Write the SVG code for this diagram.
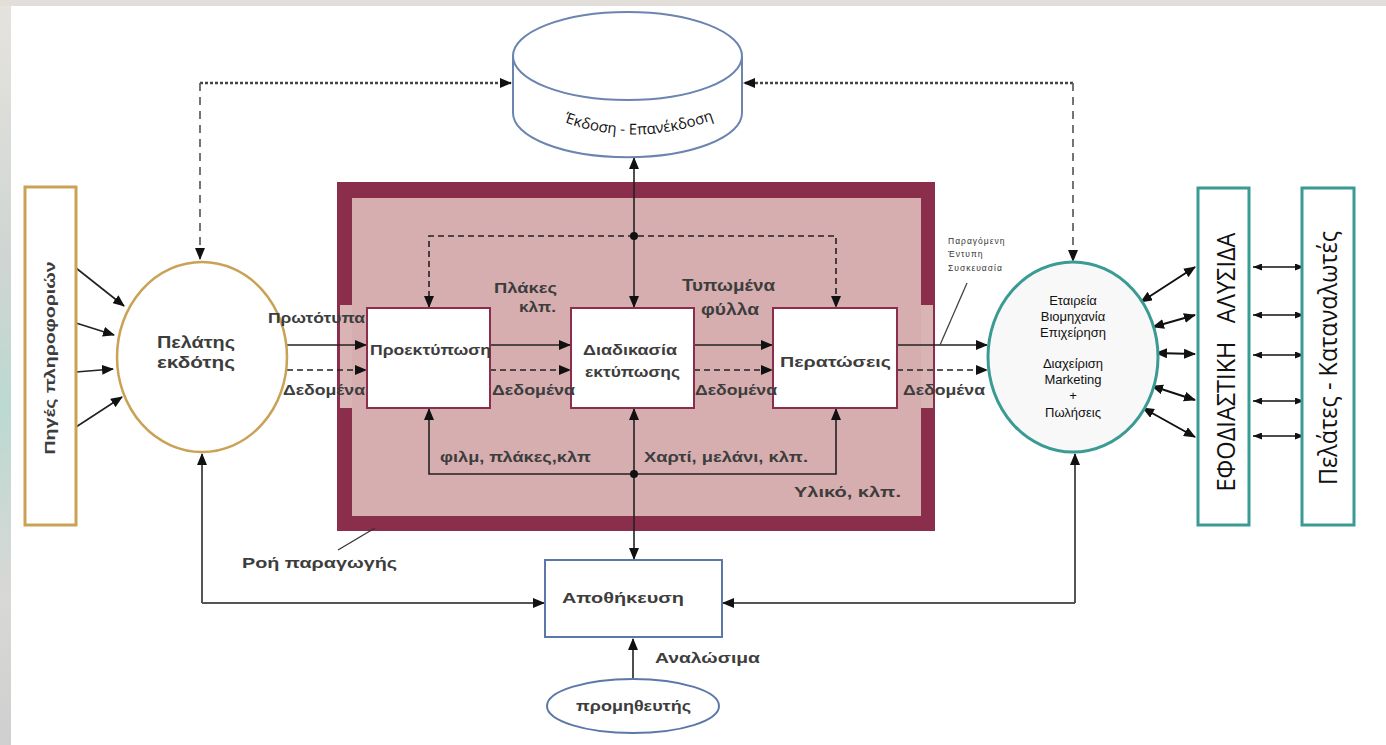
<svg xmlns="http://www.w3.org/2000/svg" width="1386" height="745" viewBox="0 0 1386 745">
<defs>
<style>
.lbl{font-family:"Liberation Sans",Arial,sans-serif;font-weight:bold;fill:#3d3d3d;font-size:14px}
.reg{font-family:"Liberation Sans",Arial,sans-serif;fill:#111;font-size:13px;text-anchor:middle}
.sm{font-family:"Liberation Sans",Arial,sans-serif;fill:#333;font-size:8.5px;letter-spacing:1px}
.big{font-family:"Open Sans","Noto Sans",sans-serif;fill:#111;text-anchor:middle}
.ln{fill:none;stroke:#222;stroke-width:1.6}
.dash{fill:none;stroke:#222;stroke-width:1.6;stroke-dasharray:6 4}
.gl{fill:none;stroke:#555;stroke-width:2}
.topd{fill:none;stroke:#444;stroke-width:2.5;stroke-dasharray:3 2}
.vd{fill:none;stroke:#666;stroke-width:1.8;stroke-dasharray:8 6}
.thick{fill:none;stroke:#111;stroke-width:2}
.thin{fill:none;stroke:#111;stroke-width:1.3}
.box{fill:#fff;stroke:#8b2e4b;stroke-width:2}
</style>
<marker id="ah" markerUnits="userSpaceOnUse" markerWidth="12" markerHeight="10" refX="11" refY="5" orient="auto-start-reverse"><path d="M0,0 L12,5 L0,10 z" fill="#111"/></marker>
<marker id="as" markerUnits="userSpaceOnUse" markerWidth="9" markerHeight="7" refX="9" refY="3.5" orient="auto-start-reverse"><path d="M0,0 L9,3.5 L0,7 z" fill="#111"/></marker>
<linearGradient id="lg" x1="0" y1="0" x2="0" y2="1"><stop offset="0" stop-color="#e6e3df"/><stop offset="0.35" stop-color="#cfd5d2"/><stop offset="0.55" stop-color="#bcd9d1"/><stop offset="0.8" stop-color="#d8d8d6"/><stop offset="1" stop-color="#cfcfcf"/></linearGradient>
<path id="arcTxt" d="M549 116 Q633 154 729 114"/>
</defs>
<rect width="1386" height="745" fill="#fff"/>
<rect x="0" y="0" width="11" height="745" fill="url(#lg)"/>
<rect x="0" y="0" width="1386" height="6" fill="#e2dfdb"/>

<g id="frame">
<rect x="337" y="182" width="598" height="349" fill="#8b2e4b"/>
<rect x="352" y="198" width="569" height="318" fill="#d6aeb0"/>
<rect x="340" y="305" width="12" height="103" fill="#d9b4b5"/>
<rect x="921" y="305" width="12" height="103" fill="#d9b4b5"/>
</g>

<g id="connectors">
<path class="topd" d="M200 83 L511 83" marker-end="url(#ah)"/>
<path class="topd" d="M1073 83 L744 83" marker-end="url(#ah)"/>
<path class="vd" d="M200 83 L200 259" marker-end="url(#ah)"/>
<path class="vd" d="M1073 83 L1073 261" marker-end="url(#ah)"/>
<path class="ln" d="M76 268 L124 306" marker-end="url(#ah)"/>
<path class="ln" d="M76 323 L114 335" marker-end="url(#ah)"/>
<path class="ln" d="M76 372 L113 369" marker-end="url(#ah)"/>
<path class="ln" d="M76 427 L122 397" marker-end="url(#ah)"/>
<path class="gl" d="M202 603 L202 454" marker-end="url(#ah)"/>
<path class="gl" d="M202 603 L544 603" marker-end="url(#ah)"/>
<path class="gl" d="M1075 603 L723 603" marker-end="url(#ah)"/>
<path class="gl" d="M1075 603 L1075 454" marker-end="url(#ah)"/>
<path class="ln" d="M634 236 L634 158" marker-end="url(#ah)"/>
<path class="ln" d="M634 236 L634 307" marker-end="url(#ah)"/>
<path class="ln" d="M634 474 L634 409" marker-end="url(#ah)"/>
<path class="ln" d="M634 474 L634 559" marker-end="url(#ah)"/>
<path class="dash" d="M429 307 L429 236 L836 236 L836 307" marker-start="url(#ah)" marker-end="url(#ah)"/>
<path class="ln" d="M429 409 L429 474 L836 474 L836 409" marker-start="url(#ah)" marker-end="url(#ah)"/>
<circle cx="634" cy="236" r="4" fill="#111"/>
<circle cx="634" cy="474" r="4" fill="#111"/>
<path class="ln" d="M287 345 L366 345" marker-end="url(#ah)"/>
<path class="dash" d="M287 370 L366 370" marker-end="url(#ah)"/>
<path class="ln" d="M490 345 L570 345" marker-end="url(#ah)"/>
<path class="dash" d="M490 370 L570 370" marker-end="url(#ah)"/>
<path class="ln" d="M694 345 L772 345" marker-end="url(#ah)"/>
<path class="dash" d="M694 370 L772 370" marker-end="url(#ah)"/>
<path class="ln" d="M897 345 L987 345" marker-end="url(#ah)"/>
<path class="dash" d="M897 370 L987 370" marker-end="url(#ah)"/>
<path d="M967 283 L940 345" fill="none" stroke="#444" stroke-width="1.3"/>
<path d="M375 528 L338 550" fill="none" stroke="#333" stroke-width="1.3"/>
<path class="ln" d="M633 679 L633 639" marker-end="url(#ah)"/>
<path class="thick" d="M1141 302 L1195 267" marker-start="url(#ah)" marker-end="url(#ah)"/>
<path class="thick" d="M1153 327 L1195 315" marker-start="url(#ah)" marker-end="url(#ah)"/>
<path class="thick" d="M1156 353 L1195 354" marker-start="url(#ah)" marker-end="url(#ah)"/>
<path class="thick" d="M1152 386 L1195 400" marker-start="url(#ah)" marker-end="url(#ah)"/>
<path class="thick" d="M1143 408 L1195 437" marker-start="url(#ah)" marker-end="url(#ah)"/>
<path class="thin" d="M1253 267 L1304 267" marker-start="url(#as)" marker-end="url(#as)"/>
<path class="thin" d="M1253 315 L1304 315" marker-start="url(#as)" marker-end="url(#as)"/>
<path class="thin" d="M1253 355 L1304 355" marker-start="url(#as)" marker-end="url(#as)"/>
<path class="thin" d="M1253 401 L1304 401" marker-start="url(#as)" marker-end="url(#as)"/>
<path class="thin" d="M1253 436 L1304 436" marker-start="url(#as)" marker-end="url(#as)"/>
</g>

<g id="cylinder">
<path d="M513 56 L513 113 A114 44 0 0 0 742 113 L742 56" fill="#fff" stroke="#6b84b0" stroke-width="2"/>
<ellipse cx="627.5" cy="56" rx="114.5" ry="44" fill="#fff" stroke="#6b84b0" stroke-width="2"/>
<text style="font-family:'Open Sans','Noto Sans',sans-serif;font-size:15px;fill:#111"><textPath href="#arcTxt" startOffset="50%" text-anchor="middle">Έκδοση - Επανέκδοση</textPath></text>
</g>

<g id="sources">
<rect x="25" y="187" width="51" height="338" fill="#fff" stroke="#c9a255" stroke-width="3"/>
<text class="lbl" transform="translate(55 358) rotate(-90)" text-anchor="middle" textLength="193" lengthAdjust="spacingAndGlyphs">Πηγές πληροφοριών</text>
</g>

<g id="publisher">
<ellipse cx="202" cy="357" rx="85" ry="95" fill="#fff" stroke="#c9a255" stroke-width="2.5"/>
<text class="lbl" x="157" y="348" textLength="78" lengthAdjust="spacingAndGlyphs" style="font-size:16px">Πελάτης</text>
<text class="lbl" x="157" y="368" textLength="78" lengthAdjust="spacingAndGlyphs" style="font-size:16px">εκδότης</text>
</g>

<g id="prepress">
<rect class="box" x="367" y="308" width="123" height="100"/>
<text class="lbl" x="370" y="355" textLength="121" lengthAdjust="spacingAndGlyphs">Προεκτύπωση</text>
</g>
<g id="printing">
<rect class="box" x="571" y="308" width="123" height="100"/>
<text class="lbl" x="583" y="355" textLength="94" lengthAdjust="spacingAndGlyphs">Διαδικασία</text>
<text class="lbl" x="585" y="377" textLength="95" lengthAdjust="spacingAndGlyphs">εκτύπωσης</text>
</g>
<g id="finishing">
<rect class="box" x="773" y="308" width="124" height="100"/>
<text class="lbl" x="780" y="367" textLength="111" lengthAdjust="spacingAndGlyphs">Περατώσεις</text>
</g>

<g id="labels">
<text class="lbl" x="268" y="323" textLength="97" lengthAdjust="spacingAndGlyphs">Πρωτότυπα</text>
<text class="lbl" x="283" y="395" textLength="82" lengthAdjust="spacingAndGlyphs">Δεδομένα</text>
<text class="lbl" x="494" y="293" textLength="63" lengthAdjust="spacingAndGlyphs">Πλάκες</text>
<text class="lbl" x="519" y="312" textLength="37" lengthAdjust="spacingAndGlyphs">κλπ.</text>
<text class="lbl" x="492" y="395" textLength="83" lengthAdjust="spacingAndGlyphs">Δεδομένα</text>
<text class="lbl" x="682" y="291" textLength="93" lengthAdjust="spacingAndGlyphs" style="font-size:16px">Τυπωμένα</text>
<text class="lbl" x="701" y="315" textLength="58" lengthAdjust="spacingAndGlyphs" style="font-size:16px">φύλλα</text>
<text class="lbl" x="695" y="395" textLength="82" lengthAdjust="spacingAndGlyphs">Δεδομένα</text>
<text class="lbl" x="903" y="395" textLength="82" lengthAdjust="spacingAndGlyphs">Δεδομένα</text>
<text class="lbl" x="440" y="462" textLength="151" lengthAdjust="spacingAndGlyphs">φιλμ, πλάκες,κλπ</text>
<text class="lbl" x="644" y="462" textLength="164" lengthAdjust="spacingAndGlyphs">Χαρτί, μελάνι, κλπ.</text>
<text class="lbl" x="794" y="497" textLength="107" lengthAdjust="spacingAndGlyphs">Υλικό, κλπ.</text>
<text class="lbl" x="242" y="568" textLength="155" lengthAdjust="spacingAndGlyphs">Ροή παραγωγής</text>
<text class="lbl" x="655" y="663" textLength="105" lengthAdjust="spacingAndGlyphs">Αναλώσιμα</text>
<text class="sm" x="948" y="244">Παραγόμενη</text>
<text class="sm" x="948" y="257">Έντυπη</text>
<text class="sm" x="948" y="271">Συσκευασία</text>
</g>

<g id="storage">
<rect x="545" y="560" width="177" height="77" fill="#fff" stroke="#5b78a8" stroke-width="2"/>
<text class="lbl" x="562" y="603" textLength="122" lengthAdjust="spacingAndGlyphs">Αποθήκευση</text>
</g>

<g id="supplier">
<ellipse cx="633" cy="706" rx="86" ry="27" fill="#fff" stroke="#5b78a8" stroke-width="2"/>
<text class="lbl" x="576" y="711" textLength="115" lengthAdjust="spacingAndGlyphs">προμηθευτής</text>
</g>

<g id="company">
<ellipse cx="1073" cy="357" rx="85" ry="95" fill="#f8f8f8" stroke="#3a9a94" stroke-width="3"/>
<text class="reg" x="1073" y="305">Εταιρεία</text>
<text class="reg" x="1073" y="321">Βιομηχανία</text>
<text class="reg" x="1073" y="337">Επιχείρηση</text>
<text class="reg" x="1073" y="368">Διαχείριση</text>
<text class="reg" x="1073" y="384">Marketing</text>
<text class="reg" x="1073" y="400">+</text>
<text class="reg" x="1073" y="417">Πωλήσεις</text>
</g>

<g id="supply-chain">
<rect x="1198" y="188" width="51" height="337" fill="#fff" stroke="#3a9a94" stroke-width="3"/>
<text class="big" transform="translate(1235 362) rotate(-90)" style="font-size:25px" textLength="259" lengthAdjust="spacingAndGlyphs" xml:space="preserve">ΕΦΟΔΙΑΣΤΙΚΗ   ΑΛΥΣΙΔΑ</text>
</g>

<g id="customers">
<rect x="1302" y="188" width="52" height="337" fill="#fff" stroke="#3a9a94" stroke-width="3"/>
<text class="big" transform="translate(1337 358) rotate(-90)" style="font-size:25px" textLength="254" lengthAdjust="spacingAndGlyphs">Πελάτες - Καταναλωτές</text>
</g>
</svg>
